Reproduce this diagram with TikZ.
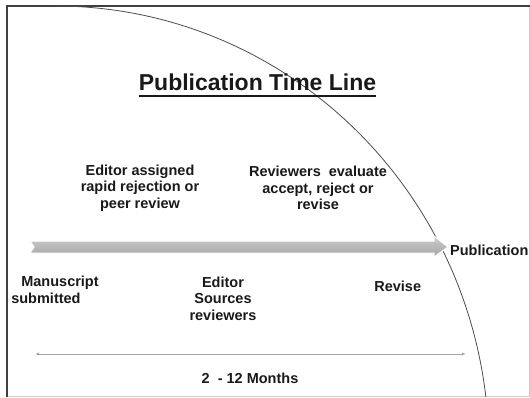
\documentclass[tikz,border=0pt]{standalone}
\usepackage{fontspec}
\setmainfont{Liberation Sans}
\usetikzlibrary{arrows.meta}
\begin{document}
\begin{tikzpicture}[x=1pt,y=1pt,
	txt/.style={font=\bfseries\fontsize{14.5}{16.5}\selectfont, text=black!90, align=center, inner sep=0pt},
	eix/.style={draw=gray!70, line width=0.8pt, {Latex[length=4pt,width=3pt]}-{Latex[length=4pt,width=3pt]}}]
	\useasboundingbox (0,0) rectangle (530,397);
	
	% marc
	\draw[gray!40, line width=0.8pt] (7,1) -- (529,1) -- (529,391);
	\draw[black!75, line width=2.5pt] (7,0) -- (7,391) -- (530,391);
	
	% arc
	\draw[black!70, line width=0.8pt] (55,391) arc[start angle=90, end angle=6.86, x radius=434pt, y radius=444pt];
	
	% titol
	\node[font=\bfseries\fontsize{23}{28}\selectfont, text=black!90, inner sep=0pt, anchor=base] (titol) at (257.5,306) {Publication Time Line};
	\draw[black!90, line width=1.5pt] ([yshift=-5pt]titol.base west) -- ([yshift=-5pt]titol.base east);
	
	% fletxa gran
	\node[txt, anchor=west] (pub) at (450,146.5) {Publication};
	\coordinate (inici) at (30,150);
	\coordinate (punta) at ([xshift=-2pt]pub.west |- inici);
	\shade[top color=gray!40, bottom color=gray!70, draw=white, line width=1pt]
		(inici |- 0,156) -- ([shift={(-14,6)}]punta) -- ([shift={(-14,11)}]punta) -- (punta)
		-- ([shift={(-14,-10)}]punta) -- ([shift={(-14,-6)}]punta) -- (inici |- 0,144)
		-- ([xshift=4pt]inici) -- cycle;
	
	% textos de dalt
	\node[txt] (edass) at (140,209) {Editor assigned\\rapid rejection or\\peer review};
	\node[txt] (reval) at (318,209) {Reviewers\ \ evaluate\\accept, reject or\\revise};
	
	% textos de baix
	\node[txt, align=left] (manu) at (55,107) {\hspace{10pt}Manuscript\\submitted};
	\node[txt] (edsrc) at (223,98.5) {Editor\\Sources\\reviewers};
	\node[txt] (revise) at (397.7,110.3) {Revise};
	
	% durada
	\coordinate (esq) at (35,43);
	\coordinate (dre) at (466,43);
	\draw[eix] (esq) -- (dre);
	\node[txt] (mesos) at (250,19) {2\ \ - 12 Months};
\end{tikzpicture}
\end{document}
